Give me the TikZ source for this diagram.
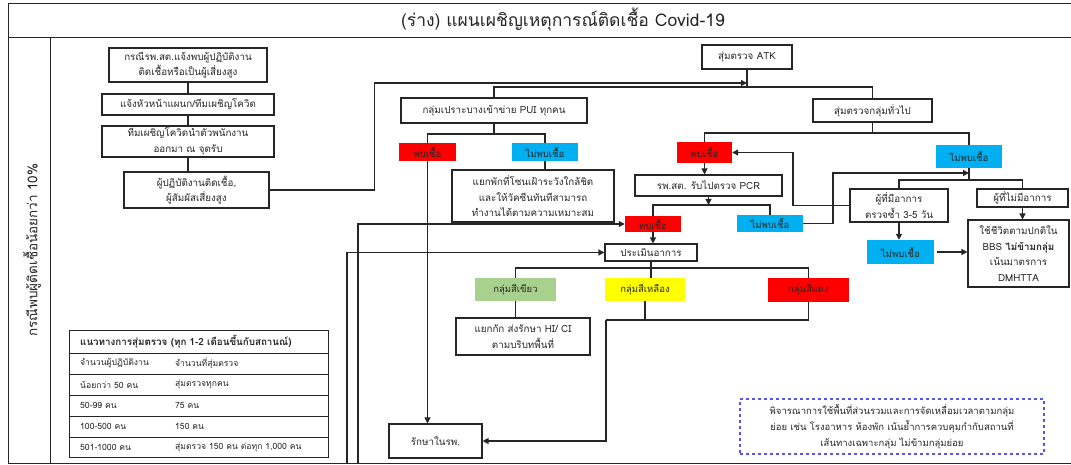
\documentclass[tikz,border=0pt]{standalone}
\usepackage{fontspec}
\setmainfont{Loma}[Script=Thai]
\usetikzlibrary{arrows.meta,calc}
\definecolor{cred}{HTML}{FF0000}
\definecolor{cblue}{HTML}{00B0F0}
\definecolor{cgreen}{HTML}{A9D18E}
\definecolor{cyellow}{HTML}{FFFF00}
\definecolor{cdash}{HTML}{5555EE}
\definecolor{ink}{HTML}{262626}
\tikzset{
  box/.style={draw=ink, line width=1.1pt, fill=white, inner sep=1pt, align=center, font=\fontsize{9.8}{15.5}\selectfont, text=ink},
  tag/.style={inner sep=1pt, align=center, font=\fontsize{9.5}{11}\selectfont, text=ink},
  con/.style={draw=ink, line width=1.2pt},
  arr/.style={con, -{Triangle[length=6pt,width=6pt]}},
  tbl/.style={anchor=west, inner sep=0pt, font=\fontsize{8.6}{10}\selectfont, text=ink},
}
\newcommand{\bx}[6]{\node[#1, minimum width=#4pt, minimum height=#5pt] (#2) at (#3) {#6};}
\begin{document}
\begin{tikzpicture}[x=1pt,y=-1pt]
\useasboundingbox (0,0) rectangle (1071,465);
% frame
\draw[line width=1pt, draw=ink] (8,4) -- (1071,4);
\draw[line width=1pt, draw=ink] (8,4) -- (8,463) -- (1071,463);
\draw[line width=1pt, draw=ink] (8,38) -- (1071,38);
\draw[line width=1pt, draw=ink] (50,38) -- (50,463);
\node[font=\fontsize{17.5}{20}\selectfont, text=ink] (title) at (563,20) {(ร่าง) แผนเผชิญเหตุการณ์ติดเชื้อ Covid-19};
\node[rotate=90, font=\fontsize{13.5}{15}\selectfont, text=ink] (side) at (32,250) {กรณีพบผู้ติดเชื้อน้อยกว่า 10\%};

% left chain
\bx{box}{b1}{188,65}{158}{34}{กรณีรพ.สต.แจ้งพบผู้ปฏิบัติงาน\\ติดเชื้อหรือเป็นผู้เสี่ยงสูง}
\bx{box}{b2}{188,104.5}{172}{21}{แจ้งหัวหน้าแผนก/ทีมเผชิญโควิด}
\bx{box}{b3}{188,141.5}{172}{31}{ทีมเผชิญโควิดนำตัวพนักงาน\\ออกมา ณ จุดรับ}
\bx{box}{b4}{196.5,190}{145}{36}{ผู้ปฏิบัติงานติดเชื้อ,\\ผู้สัมผัสเสี่ยงสูง}

% top
\bx{box}{atk}{747,57}{90}{24}{สุ่มตรวจ ATK}
\bx{box}{pui}{494,110.5}{186}{25}{กลุ่มเปราะบางเข้าข่าย PUI ทุกคน}
\bx{box}{gen}{872.5,110.5}{119}{23}{สุ่มตรวจกลุ่มทั่วไป}

% PUI branch
\bx{tag,fill=cred}{redpui}{427.5,152}{57}{18}{พบเชื้อ}
\bx{tag,fill=cblue}{bluepui}{545,152}{66}{18}{ไม่พบเชื้อ}
\bx{box}{quar}{533,196}{162}{52}{แยกพักที่โซนเฝ้าระวังใกล้ชิด\\และให้วัคซีนทันทีสามารถ\\ทำงานได้ตามความเหมาะสม}

% general branch
\bx{tag,fill=cred}{redgen}{704.5,152.5}{55}{21}{พบเชื้อ}
\bx{tag,fill=cblue}{bluegen}{969,156.5}{66}{23}{ไม่พบเชื้อ}
\bx{box}{pcr}{708.5,185.5}{147}{21}{รพ.สต. รับไปตรวจ PCR}
\bx{tag,fill=cred}{redpcr}{653,224}{56}{16}{พบเชื้อ}
\bx{tag,fill=cblue}{bluepcr}{770,223.5}{66}{17}{ไม่พบเชื้อ}
\bx{box}{assess}{651,252.5}{92}{17}{ประเมินอาการ}
\bx{box}{sym}{899,205.5}{98}{33}{ผู้ที่มีอาการ\\ตรวจซ้ำ 3-5 วัน}
\bx{box}{nosym}{1022.5,198}{91}{18}{ผู้ที่ไม่มีอาการ}
\bx{tag,fill=cblue}{bluelow}{900.5,252}{67}{24}{ไม่พบเชื้อ}
\bx{box}{normal}{1018.5,253.5}{101}{67}{ใช้ชีวิตตามปกติใน\\BBS \textbf{ไม่ข้ามกลุ่ม}\\เน้นมาตรการ\\DMHTTA}

% color groups
\bx{tag,fill=cgreen}{green}{515.5,289.5}{81}{23}{กลุ่มสีเขียว}
\bx{tag,fill=cyellow}{yellow}{645,289.5}{80}{23}{กลุ่มสีเหลือง}
\bx{tag,fill=cred}{redgrp}{808.5,290}{81}{24}{กลุ่มสีแดง}
\bx{box}{hici}{523,336.5}{134}{37}{แยกกัก ส่งรักษา HI/ CI\\ตามบริบทพื้นที่}
\bx{box}{hosp}{435.5,441}{93}{34}{รักษาในรพ.}

% dashed note
\node[draw=cdash, dashed, line width=1.1pt, minimum width=304pt, minimum height=55pt, align=center, font=\fontsize{9.5}{16}\selectfont, text=ink] (note) at (892,426.5)
 {พิจารณาการใช้พื้นที่ส่วนรวมและการจัดเหลื่อมเวลาตามกลุ่ม\\ย่อย เช่น โรงอาหาร ห้องพัก เน้นย้ำการควบคุมกำกับสถานที่\\เส้นทางเฉพาะกลุ่ม ไม่ข้ามกลุ่มย่อย};

% table
\draw[line width=1pt, draw=ink] (69,330) rectangle (328,457);
\foreach \yy in {353,374,395,416,437} \draw[line width=0.8pt, draw=ink] (69,\yy) -- (328,\yy);
\node[tbl, font=\fontsize{9.8}{11}\bfseries] (th) at (80,341.5) {แนวทางการสุ่มตรวจ (ทุก 1-2 เดือนขึ้นกับสถานณ์)};
\node[tbl] (r1a) at (80,363.5) {จำนวนผู้ปฏิบัติงาน};
\node[tbl] (r1b) at (175,363.5) {จำนวนที่สุ่มตรวจ};
\node[tbl] (r2a) at (80,384.5) {น้อยกว่า 50 คน};
\node[tbl] (r2b) at (175,384.5) {สุ่มตรวจทุกคน};
\node[tbl] (r3a) at (80,405.5) {50-99 คน};
\node[tbl] (r3b) at (175,405.5) {75 คน};
\node[tbl] (r4a) at (80,426.5) {100-500 คน};
\node[tbl] (r4b) at (175,426.5) {150 คน};
\node[tbl] (r5a) at (80,447) {501-1000 คน};
\node[tbl] (r5b) at (175,447) {สุ่มตรวจ 150 คน ต่อทุก 1,000 คน};

% junction coordinates
\coordinate (atkin) at (747,83);
\coordinate (atkj) at (747,87);
\coordinate (puij) at (494,134);
\coordinate (genj) at (872.5,133);
\coordinate (pcrj) at (708.5,205);
\coordinate (bgin) at (969,173);
\coordinate (bgj) at (969,180);
\coordinate (asj) at (651,268);
\coordinate (yj) at (606,320);
\coordinate (in1) at (358,463);
\coordinate (in2) at (347,463);

% connectors
\draw[con] (b1) -- (b2);
\draw[con] (b2) -- (b3);
\draw[con] (b3.south) -- (b3.south |- b4.north);
\draw[arr] (b4.east) -- ++(105,0) |- (atkin);
\draw[con] (atk.south) -- (atkj);
\draw[con] (pui.north) |- (atkj) -| (gen.north);
\draw[con] (pui.south) -- (puij);
\draw[con] (redpui.north) |- (puij) -| (bluepui.north);
\draw[con] (bluepui.south) -- (bluepui.south |- quar.north);
\draw[arr] (redpui.south) -- (redpui.south |- hosp.north);
\draw[con] (gen.south) -- (genj);
\draw[con] (redgen.north) |- (genj) -| (bluegen.north);
\draw[arr] (redgen.south) -- (redgen.south |- pcr.north);
\draw[arr] (pcr.south) -- (pcrj);
\draw[con] (redpcr.north) |- (pcrj) -| (bluepcr.north);
\draw[arr] (redpcr.south) -- (redpcr.south |- assess.north);
\draw[arr] (bluepcr.east) -| (833,173) -- (bgin);
\draw[con] (bluegen.south) -- (bgj);
\draw[con] (sym.north) |- (bgj) -| (nosym.north);
\draw[arr] (sym.west) -- (793,205.5) |- (redgen.east);
\draw[arr] (sym.south) -- (sym.south |- bluelow.north);
\draw[arr, shorten <=3pt] (bluelow.east) -- (bluelow.east -| normal.west);
\draw[arr] (nosym.south) -- (nosym.south |- normal.north);
\draw[con] (assess.south) -- (assess.south |- yellow.north);
\draw[con] (green.north) |- (asj) -| (redgrp.north);
\draw[con] (green.south) -- (green.south |- hici.north);
\draw[con] (yellow.south) -- (yellow.south |- yj);
\draw[con] (redgrp.south) |- (yj);
\draw[arr] (yj) |- (hosp.east);
\draw[arr] (in1) |- (redpcr.west);
\draw[arr] (in2) |- (assess.west);
\end{tikzpicture}
\end{document}
